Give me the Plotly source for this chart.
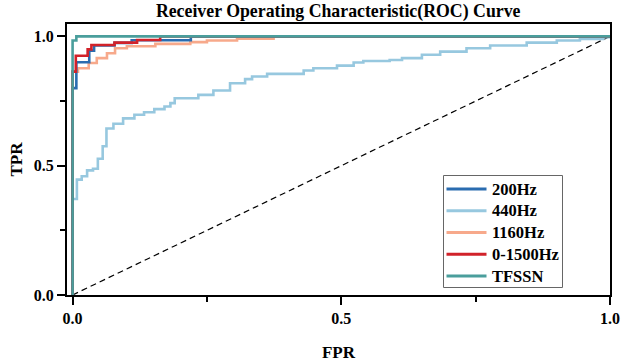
import plotly.graph_objects as go

# ROC step points (FPR, TPR); each point marks where TPR jumps at that FPR
fpr_200 = [0.0, 0.0, 0.007, 0.031, 0.040, 0.078, 0.110, 0.220, 1.0]
tpr_200 = [0.0, 0.800, 0.900, 0.945, 0.965, 0.975, 0.985, 1.0, 1.0]

fpr_440 = [0.0, 0.0, 0.008, 0.017, 0.027, 0.038, 0.047, 0.056, 0.063, 0.076,
           0.094, 0.115, 0.133, 0.152, 0.171, 0.182, 0.190, 0.234, 0.262,
           0.293, 0.321, 0.334, 0.362, 0.430, 0.448, 0.492, 0.523, 0.541,
           0.590, 0.613, 0.650, 0.684, 0.733, 0.777, 0.845, 0.901, 0.944,
           0.987, 1.0]
tpr_440 = [0.0, 0.371, 0.446, 0.459, 0.482, 0.488, 0.527, 0.575, 0.644, 0.662,
           0.683, 0.697, 0.707, 0.719, 0.729, 0.742, 0.761, 0.774, 0.791,
           0.819, 0.835, 0.845, 0.855, 0.868, 0.877, 0.887, 0.899, 0.905,
           0.909, 0.916, 0.929, 0.941, 0.954, 0.965, 0.976, 0.984, 0.990,
           0.997, 1.0]

fpr_1160 = [0.0, 0.0, 0.010, 0.030, 0.045, 0.064, 0.079, 0.101, 0.154,
            0.219, 0.250, 0.306, 0.374, 1.0]
tpr_1160 = [0.0, 0.864, 0.877, 0.897, 0.916, 0.935, 0.954, 0.962, 0.971,
            0.978, 0.984, 0.991, 1.0, 1.0]

fpr_full = [0.0, 0.0, 0.006, 0.028, 0.035, 0.078, 0.120, 0.163, 1.0]
tpr_full = [0.0, 0.864, 0.925, 0.950, 0.967, 0.976, 0.986, 1.0, 1.0]

fpr_tfssn = [0.0, 0.0, 0.007, 1.0]
tpr_tfssn = [0.0, 0.984, 1.0, 1.0]

chance = [0.0, 1.0]

legend_order = ["200Hz", "440Hz", "1160Hz", "0-1500Hz", "TFSSN"]

FONT = "Liberation Serif, Times New Roman, serif"

W, H = 621, 363
M_L, M_R, M_T, M_B = 67, 11, 24, 68

# drawing order, bottom to top
series = [
    ("440Hz", fpr_440, tpr_440, "#97c8df"),
    ("1160Hz", fpr_1160, tpr_1160, "#f7a98b"),
    ("200Hz", fpr_200, tpr_200, "#2a6cb0"),
    ("0-1500Hz", fpr_full, tpr_full, "#d1222a"),
    ("TFSSN", fpr_tfssn, tpr_tfssn, "#4a9e9c"),
]
colors = {name: c for name, _, _, c in series}

fig = go.Figure()

fig.add_trace(go.Scatter(
    x=chance, y=chance, mode="lines", showlegend=False, hoverinfo="skip",
    line=dict(color="black", width=1.2, dash="6px,4px"),
))

for name, fx, ty, color in series:
    fig.add_trace(go.Scatter(
        x=fx, y=ty, mode="lines", name=name, showlegend=False,
        line=dict(color=color, width=2.6, shape="hv"),
    ))

axis_common = dict(
    showgrid=False, zeroline=False, showline=True, linecolor="black",
    linewidth=2, mirror=True, ticks="outside", ticklen=8, tickwidth=1.6,
    tickcolor="black", tickvals=[0, 0.5, 1.0], ticktext=["0.0", "0.5", "1.0"],
    tickfont=dict(family=FONT, size=16, color="black", weight="bold"),
    minor=dict(tickvals=[0.25, 0.75], ticks="outside", ticklen=5,
               tickwidth=1.6, tickcolor="black"),
    automargin=False,
)

fig.update_xaxes(
    range=[-0.0104, 1.0], **axis_common,
    title=dict(text="FPR", standoff=20,
               font=dict(family=FONT, size=17, color="black", weight="bold")),
)
fig.update_yaxes(
    range=[0.0, 1.048], **axis_common,
    title=dict(text="TPR", standoff=7,
               font=dict(family=FONT, size=17, color="black", weight="bold")),
)

# legend box drawn in plot-area paper coordinates, from pixel offsets
plot_w = W - M_L - M_R
plot_h = H - M_T - M_B


def px_x(x):
    return (x - M_L) / plot_w


def px_y(y):
    return (H - M_B - y) / plot_h


shapes = [dict(
    type="rect", xref="paper", yref="paper",
    x0=px_x(443.5), x1=px_x(562.5), y0=px_y(287.5), y1=px_y(175.5),
    line=dict(color="#666666", width=1), fillcolor="white", layer="above",
)]
annotations = []
row_top, row_step = 189.0, 21.75
for i, name in enumerate(legend_order):
    yy = px_y(row_top + i * row_step)
    shapes.append(dict(
        type="line", xref="paper", yref="paper",
        x0=px_x(446.5), x1=px_x(486.5), y0=yy, y1=yy,
        line=dict(color=colors[name], width=3), layer="above",
    ))
    annotations.append(dict(
        text=name, xref="paper", yref="paper", x=px_x(489.5), y=yy,
        xanchor="left", yanchor="middle", showarrow=False,
        font=dict(family=FONT, size=16.5, color="black", weight="bold"),
    ))

fig.update_layout(
    width=W, height=H, autosize=False,
    margin=dict(l=M_L, r=M_R, t=M_T, b=M_B),
    paper_bgcolor="white", plot_bgcolor="white",
    title=dict(
        text="Receiver Operating Characteristic(ROC) Curve",
        xref="paper", x=0.4994, xanchor="center", y=0.97, yanchor="middle",
        font=dict(family=FONT, size=17.8, color="black", weight="bold"),
    ),
    shapes=shapes,
    annotations=annotations,
)

fig.write_html("out.html")
